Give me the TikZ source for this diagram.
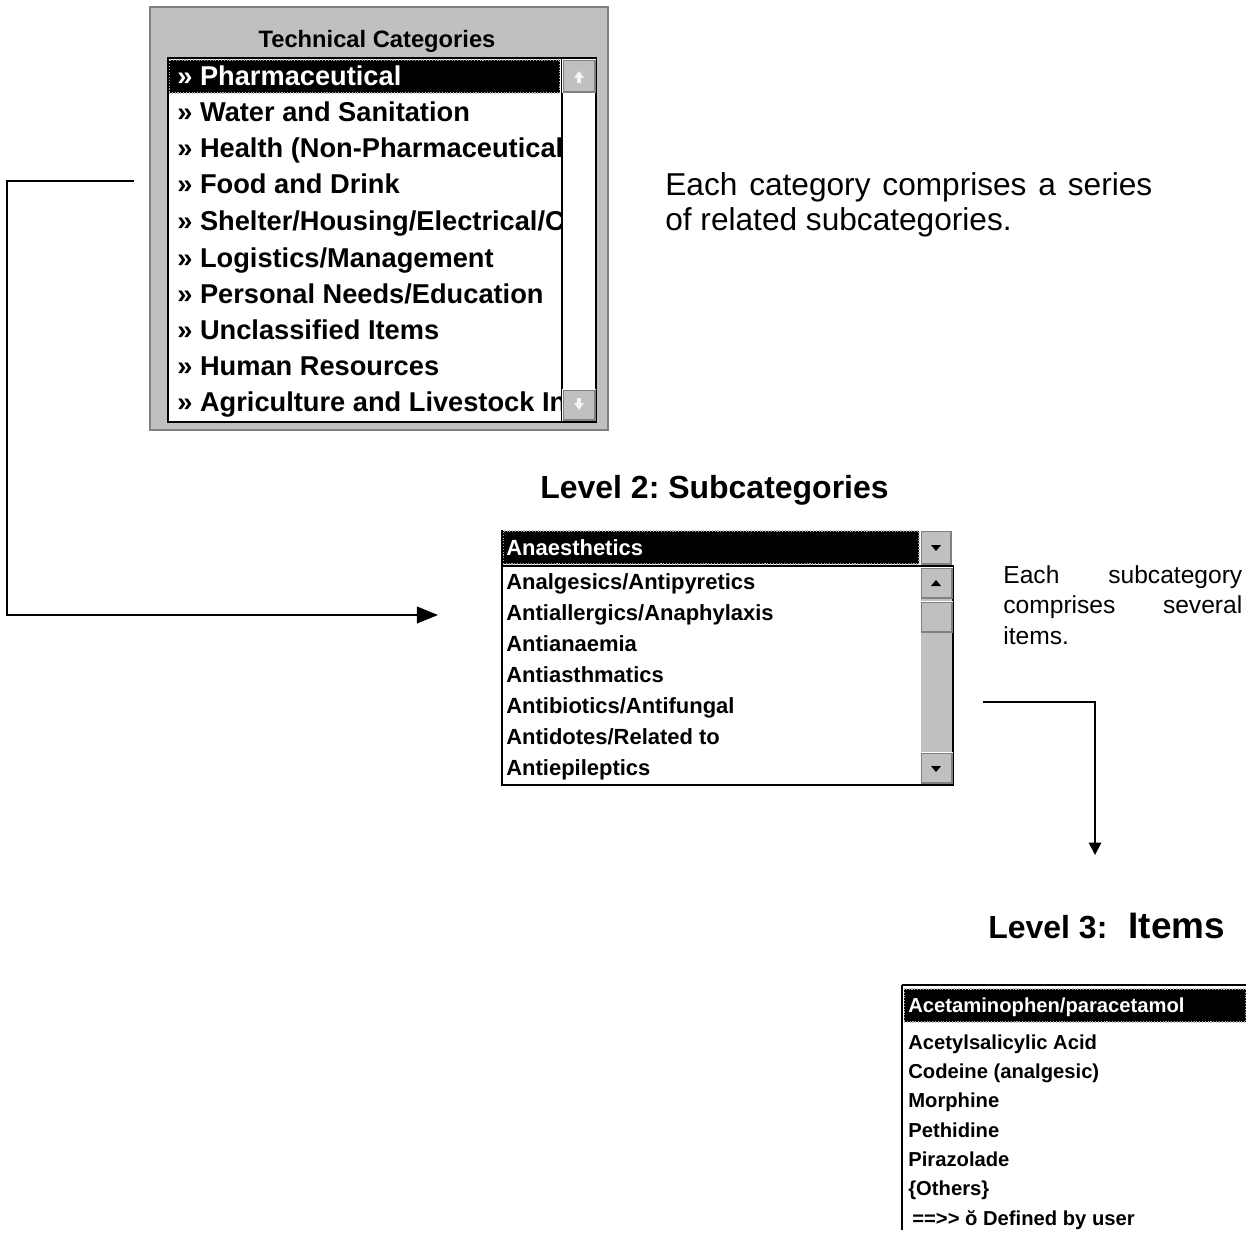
\documentclass[tikz,border=0pt]{standalone}
\usepackage{fontspec}
\setmainfont{Liberation Sans}
\usepackage{xcolor}
\usepackage{tikz}
\usetikzlibrary{arrows.meta,positioning}
\definecolor{wingray}{HTML}{C0C0C0}
\definecolor{winshadow}{HTML}{808080}
\definecolor{winlight}{HTML}{F4F4F4}
\tolerance=9999
\hyphenpenalty=10000
\frenchspacing
\tikzset{
  winpanel/.style={rectangle, draw=winshadow, fill=wingray, line width=1.2pt,
    inner sep=0pt},
  listbox/.style={rectangle, draw=black, fill=white, line width=0.9pt,
    inner sep=0pt},
  selbar/.style={rectangle, fill=black, draw=gray!60, densely dotted,
    line width=0.6pt, inner sep=0pt},
  winbtn/.style={rectangle, fill=wingray, draw=winshadow, line width=0.7pt,
    inner sep=0pt},
  catitem/.style={anchor=base west, inner sep=0pt,
    font=\fontsize{15.5pt}{18pt}\selectfont\bfseries},
  subitem/.style={anchor=base west, inner sep=0pt,
    font=\fontsize{12.5pt}{15pt}\selectfont\bfseries},
  drugitem/.style={anchor=base west, inner sep=0pt,
    font=\fontsize{11.5pt}{14pt}\selectfont\bfseries},
  heading/.style={inner sep=0pt, font=\fontsize{18.2pt}{21pt}\selectfont\bfseries},
  note/.style={anchor=north west, inner sep=0pt, align=justify, text width=#1},
  flowarrow/.style={-{Triangle[length=12pt, width=9.5pt]}, line width=1pt},
  flowarrowsmall/.style={-{Triangle[length=7pt, width=7pt]}, line width=1pt},
}

\begin{document}
\begin{tikzpicture}[x=0.02cm, y=-0.02cm]
  \useasboundingbox (0,0) rectangle (1246,1233);

  % level 1: technical categories
  \node[winpanel, minimum width=9.16cm, minimum height=8.46cm] (catpanel) at (379,218.5) {};
  \node[anchor=base, inner sep=0pt, font=\fontsize{13.5pt}{16pt}\selectfont\bfseries]
    (cattitle) at (377,48) {Technical Categories};
  \node[listbox, minimum width=8.56cm, minimum height=7.28cm] (catlist) at (382,240) {};
  \node[selbar, minimum width=7.82cm, minimum height=0.66cm] (catsel) at (364.5,76.5) {};
  \draw[line width=0.7pt] (562,58) -- (562,422);
  \node[winbtn, minimum width=0.64cm, minimum height=0.64cm] (catup) at (579,76) {};
  \node[winbtn, minimum width=0.64cm, minimum height=0.6cm] (catdown) at (579,405) {};
  \draw[white, line width=0.7pt] (catup.south west) |- (catup.north east);
  \draw[white, line width=0.7pt] (catdown.south west) |- (catdown.north east);
  \fill[winlight] (574,78) -- (584,78) -- (579,71) -- cycle;
  \fill[winlight] (577,78) rectangle (581,83);
  \fill[winlight] (574,403) -- (584,403) -- (579,410) -- cycle;
  \fill[winlight] (577,398) rectangle (581,403);
  \begin{scope}
    \clip (168,58) rectangle (561,422);
    \node[catitem, text=white] (cat1) at (177,86) {» Pharmaceutical};
    \node[catitem] (cat2) at (177,122) {» Water and Sanitation};
    \node[catitem] (cat3) at (177,158) {» Health (Non-Pharmaceutical)};
    \node[catitem] (cat4) at (177,194) {» Food and Drink};
    \node[catitem] (cat5) at (177,230) {» Shelter/Housing/Electrical/C};
    \node[catitem] (cat6) at (177,267) {» Logistics/Management};
    \node[catitem] (cat7) at (177,303) {» Personal Needs/Education};
    \node[catitem] (cat8) at (177,339) {» Unclassified Items};
    \node[catitem] (cat9) at (177,375) {» Human Resources};
    \node[catitem] (cat10) at (177,411) {» Agriculture and Livestock In};
  \end{scope}

  \node[note=9.74cm, font=\fontsize{18pt}{20pt}\selectfont] (catnote) at (665,172)
    {Each category comprises a series\linebreak of related subcategories.};

  % level 2: subcategories
  \node[heading, anchor=base west] (subtitle) at (540,498) {Level 2: Subcategories};
  \node[listbox, minimum width=9.02cm, minimum height=4.38cm] (sublist) at (727.5,675.5) {};
  \draw[line width=0.9pt] (502,530) -- (502,566);
  \node[selbar, minimum width=8.32cm, minimum height=0.66cm] (subsel) at (711,547.5) {};
  \node[winbtn, minimum width=0.6cm, minimum height=0.66cm] (subdrop) at (936,547.5) {};
  \node[winbtn, draw=none, minimum width=0.62cm, minimum height=4.34cm] (subtrack) at (936.5,675.5) {};
  \node[winbtn, minimum width=0.62cm, minimum height=0.6cm] (subup) at (936.5,583) {};
  \node[winbtn, minimum width=0.62cm, minimum height=0.6cm] (subthumb) at (936.5,617) {};
  \node[winbtn, minimum width=0.62cm, minimum height=0.6cm] (subdown) at (936.5,768) {};
  \draw[white, line width=0.7pt] (subdrop.south west) |- (subdrop.north east);
  \draw[white, line width=0.7pt] (subup.south west) |- (subup.north east);
  \draw[white, line width=0.7pt] (subthumb.south west) |- (subthumb.north east);
  \draw[white, line width=0.7pt] (subdown.south west) |- (subdown.north east);
  \fill (931,545) -- (941,545) -- (936,551) -- cycle;
  \fill (931,586) -- (941,586) -- (936,580) -- cycle;
  \fill (931,766) -- (941,766) -- (936,772) -- cycle;
  \node[subitem, text=white] (sub1) at (506,555) {Anaesthetics};
  \node[subitem] (sub2) at (506,589) {Analgesics/Antipyretics};
  \node[subitem] (sub3) at (506,620) {Antiallergics/Anaphylaxis};
  \node[subitem] (sub4) at (506,651) {Antianaemia};
  \node[subitem] (sub5) at (506,682) {Antiasthmatics};
  \node[subitem] (sub6) at (506,713) {Antibiotics/Antifungal};
  \node[subitem] (sub7) at (506,744) {Antidotes/Related to};
  \node[subitem] (sub8) at (506,775) {Antiepileptics};

  \node[note=4.78cm, font=\fontsize{14pt}{17.5pt}\selectfont] (subnote) at (1003,565)
    {Each subcategory comprises several items.};

  % level 3: items
  \node[heading, anchor=base west] (itemtitle) at (988,938)
    {Level 3:\hspace{12pt}{\fontsize{21pt}{24pt}\selectfont Items}};
  \node[selbar, minimum width=6.84cm, minimum height=0.66cm] (itemsel) at (1075,1005.5) {};
  \draw[line width=0.8pt] (1246,985) -- (902,985);
  \draw[line width=1.6pt] (902,985) -- (902,1230);
  \node[drugitem, text=white] (item1) at (908,1012) {Acetaminophen/paracetamol};
  \node[drugitem] (item2) at (908,1049) {Acetylsalicylic Acid};
  \node[drugitem] (item3) at (908,1078) {Codeine (analgesic)};
  \node[drugitem] (item4) at (908,1107) {Morphine};
  \node[drugitem] (item5) at (908,1137) {Pethidine};
  \node[drugitem] (item6) at (908,1166) {Pirazolade};
  \node[drugitem] (item7) at (908,1195) {\{Others\}};
  \node[drugitem] (item8) at (912,1225) {==>{}> ŏ Defined by user};

  % connectors
  \coordinate (catout) at (134,181);
  \coordinate (subin) at (438,615);
  \coordinate (subout) at (983,702);
  \coordinate (itemsin) at (1095,855);
  \draw[flowarrow] (catout) -- ++(-127,0) |- (subin);
  \draw[flowarrowsmall] (subout) -| (itemsin);
\end{tikzpicture}
\end{document}
